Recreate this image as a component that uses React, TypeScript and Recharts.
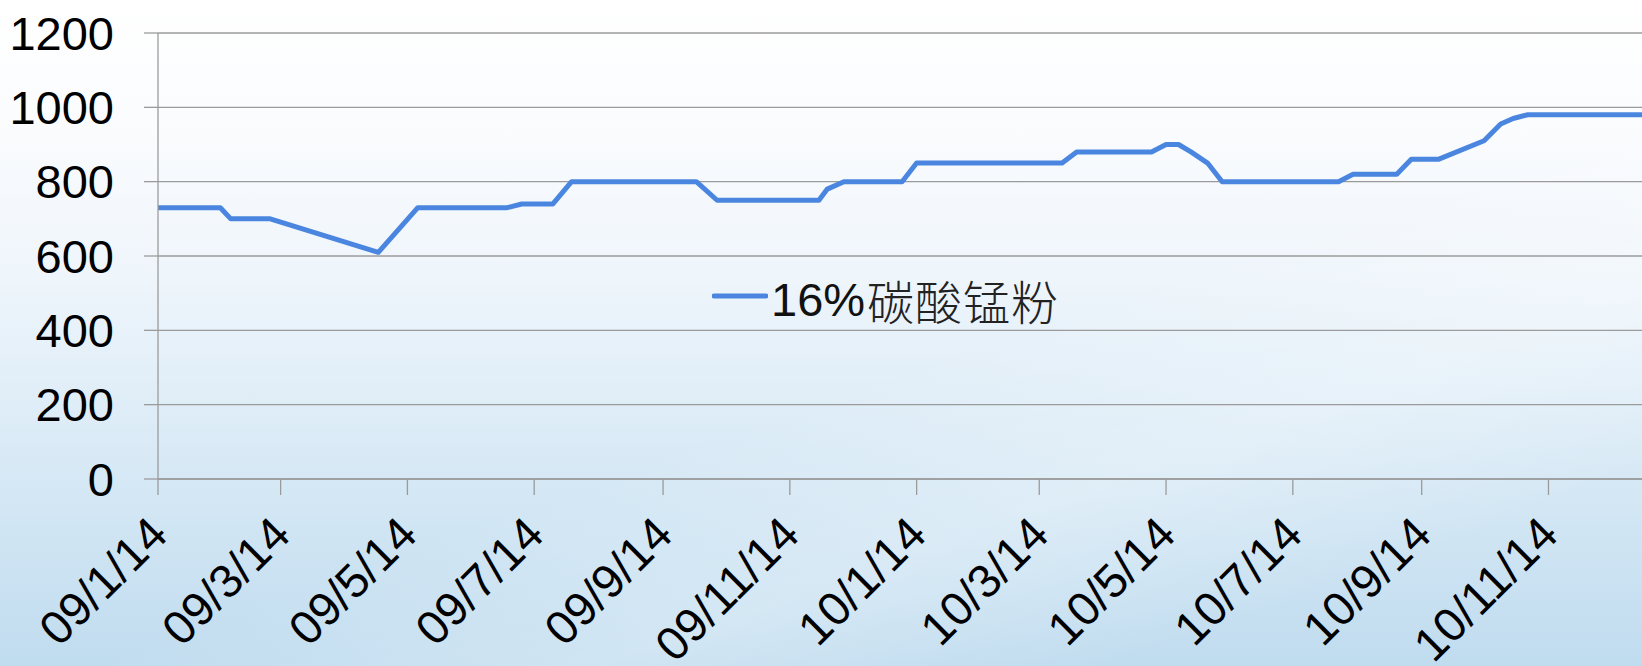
import { LineChart, Line, XAxis, YAxis, CartesianGrid, Legend } from 'recharts';

// price of 16% manganese carbonate powder
const START = '2009-01-14';
const dates = [
  '2009-01-14', '2009-02-13', '2009-02-18', '2009-03-09', '2009-04-30',
  '2009-05-19', '2009-07-01', '2009-07-08', '2009-07-23', '2009-08-01',
  '2009-09-30', '2009-10-10', '2009-11-28', '2009-12-02', '2009-12-10',
  '2010-01-07', '2010-01-14', '2010-03-25', '2010-04-01', '2010-05-07',
  '2010-05-14', '2010-05-20', '2010-05-26', '2010-06-03', '2010-06-10',
  '2010-08-05', '2010-08-12', '2010-09-02', '2010-09-09', '2010-09-22',
  '2010-10-14', '2010-10-22', '2010-10-28', '2010-11-04', '2011-01-14',
];
const prices = [
  730, 730, 700, 700, 610,
  730, 730, 740, 740, 800,
  800, 750, 750, 780, 800,
  800, 850, 850, 880, 880,
  900, 900, 880, 850, 800,
  800, 820, 820, 860, 860,
  910, 955, 970, 980, 980,
];
const tickDates = [
  '2009-01-14', '2009-03-14', '2009-05-14', '2009-07-14', '2009-09-14', '2009-11-14',
  '2010-01-14', '2010-03-14', '2010-05-14', '2010-07-14', '2010-09-14', '2010-11-14',
];
const yTicks = [0, 200, 400, 600, 800, 1000, 1200];
const SERIES_NAME = '16%碳酸锰粉';

const FONT = '"Liberation Sans", Arial, "Noto Sans CJK SC", sans-serif';
const CJK_FONT = '"Noto Sans CJK SC", sans-serif';
const LINE_COLOR = '#4a86e0';
const GRID_COLOR = '#9b9b9b';

const toDay = (s: string) => (Date.parse(s) - Date.parse(START)) / 86400000;
// 2009-01-14 -> 09/1/14
const fmtDate = (s: string) => `${s.slice(2, 4)}/${Number(s.slice(5, 7))}/${s.slice(8, 10)}`;

const chartData = dates.map((d, i) => ({ day: toDay(d), price: prices[i] }));
const xTicks = tickDates.map(toDay);
const labelByDay: Record<number, string> = {};
tickDates.forEach((d) => {
  labelByDay[toDay(d)] = fmtDate(d);
});

function DateTick(props: any) {
  const { x, y, payload } = props;
  const ax = x + 12;
  const ay = y + 42;
  return (
    <text
      x={ax}
      y={ay}
      textAnchor="end"
      transform={`rotate(-45 ${ax} ${ay})`}
      fontFamily={FONT}
      fontSize={47}
      fill="#000"
    >
      {labelByDay[payload.value]}
    </text>
  );
}

function renderLegend(props: any) {
  const item = props.payload && props.payload[0];
  const name: string = item ? String(item.value) : SERIES_NAME;
  const latin = name.match(/^[\x00-\x7f]*/)?.[0] ?? '';
  const rest = name.slice(latin.length);
  return (
    <div style={{ display: 'flex', alignItems: 'center', whiteSpace: 'nowrap', height: 52 }}>
      <svg width={56} height={10} style={{ position: 'relative', top: -4 }}>
        <line x1={2} y1={5} x2={54} y2={5} stroke={LINE_COLOR} strokeWidth={5} strokeLinecap="round" />
      </svg>
      <span style={{ fontFamily: FONT, fontSize: 47, lineHeight: '52px', color: '#111', marginLeft: 3 }}>
        {latin}
      </span>
      <span
        style={{
          fontFamily: CJK_FONT,
          fontSize: 47,
          lineHeight: '52px',
          color: '#222',
          fontWeight: 300,
          marginLeft: 2,
          letterSpacing: 1,
        }}
      >
        {rest}
      </span>
    </div>
  );
}

export default function App() {
  return (
    <div
      style={{
        position: 'fixed',
        left: 0,
        top: 0,
        width: 1642,
        height: 666,
        overflow: 'hidden',
        background:
          'linear-gradient(160deg, rgba(255,255,255,0) 55%, rgba(255,255,255,0.25) 70%, rgba(255,255,255,0) 85%), linear-gradient(180deg, #ffffff 0%, #fbfcfe 18%, #eef5fb 42%, #d9eaf6 68%, #c0dcef 100%)',
      }}
    >
      <LineChart
        width={1642}
        height={666}
        data={chartData}
        margin={{ top: 33, right: 0, bottom: 0, left: 0 }}
      >
        <CartesianGrid horizontal vertical={false} stroke={GRID_COLOR} strokeWidth={1.3} />
        <XAxis
          dataKey="day"
          type="number"
          domain={[0, 714]}
          allowDataOverflow
          ticks={xTicks}
          interval={0}
          height={187}
          tickSize={16}
          tickMargin={0}
          axisLine={{ stroke: GRID_COLOR, strokeWidth: 1.3 }}
          tickLine={{ stroke: GRID_COLOR, strokeWidth: 1.3 }}
          tick={<DateTick />}
        />
        <YAxis
          domain={[0, 1200]}
          ticks={yTicks}
          interval={0}
          width={158}
          tickSize={14}
          tickMargin={30}
          axisLine={{ stroke: GRID_COLOR, strokeWidth: 1.3 }}
          tickLine={{ stroke: GRID_COLOR, strokeWidth: 1.3 }}
          tick={{ fontFamily: FONT, fontSize: 47, fill: '#000' }}
        />
        <Legend
          layout="horizontal"
          verticalAlign="middle"
          align="center"
          content={renderLegend}
          wrapperStyle={{ left: 712, top: 274, width: 'auto' }}
        />
        <Line
          type="linear"
          dataKey="price"
          name={SERIES_NAME}
          stroke={LINE_COLOR}
          strokeWidth={5}
          strokeLinejoin="round"
          dot={false}
          activeDot={false}
          isAnimationActive={false}
        />
      </LineChart>
    </div>
  );
}
